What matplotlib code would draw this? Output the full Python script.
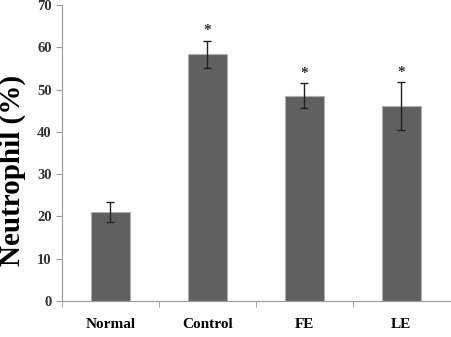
import numpy as np
import matplotlib
matplotlib.use("Agg")
import matplotlib.pyplot as plt

# data
groups = ["Normal", "Control", "FE", "LE"]
means = [21.0, 58.4, 48.6, 46.1]
errs = [2.3, 3.2, 2.9, 5.7]
stars = ["", "*", "*", "*"]

plt.rcParams['font.family'] = ['Liberation Serif', 'DejaVu Serif']

fig = plt.figure(figsize=(4.52, 3.37), dpi=100)
ax = fig.add_axes([0.137, 0.107, 0.858, 0.878])

x = np.arange(len(groups))
ax.bar(x, means, width=0.4, color='#606060', edgecolor='#b0b0b0', linewidth=0.8,
       yerr=errs, capsize=3, error_kw=dict(ecolor='#222222', elinewidth=1, capthick=1))

for i in range(len(groups)):
    if stars[i]:
        ax.text(x[i], means[i] + errs[i] + 0.8, stars[i], ha='center', va='bottom',
                fontsize=11, fontweight='bold', color='#333333')

ax.set_xlim(-0.5, 3.5)
ax.set_ylim(0, 70)
ax.set_yticks(np.arange(0, 71, 10))
ax.set_xticks(x)
ax.set_xticklabels(groups, fontsize=11, fontweight='bold')
ax.set_xticks(np.arange(-0.5, 3.0, 1.0), minor=True)
ax.tick_params(axis='x', which='major', length=0, pad=12)
ax.tick_params(axis='x', which='minor', length=4, color='#999999', direction='out')
ax.tick_params(axis='y', length=4, color='#999999', direction='out', labelsize=10.5, labelcolor='#333333')
for lab in ax.get_yticklabels():
    lab.set_fontweight('bold')

ax.set_ylabel('Neutrophil (%)', fontsize=21, fontweight='bold')
ax.yaxis.set_label_coords(-0.093, 0.44)

for s in ['top', 'right']:
    ax.spines[s].set_visible(False)
for s in ['left', 'bottom']:
    ax.spines[s].set_color('#999999')
    ax.spines[s].set_linewidth(0.8)

plt.savefig("out.png", dpi=100)
